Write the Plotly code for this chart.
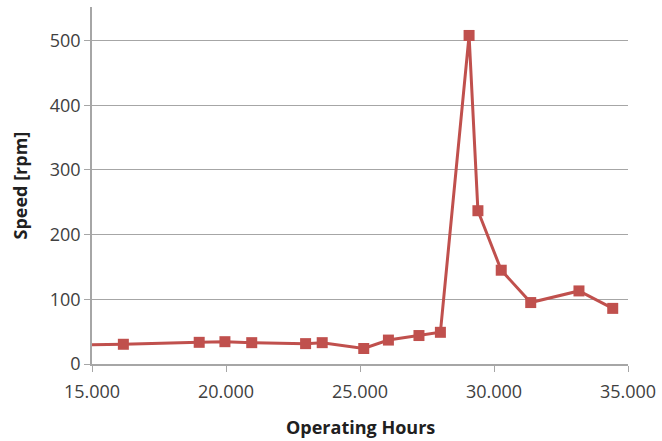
import plotly.graph_objects as go

hours = [13000, 16170, 19000, 19960, 20960, 22970, 23590, 25140, 26060, 27200, 28000,
         29070, 29400, 30270, 31370, 33170, 34430]
speed = [29, 30.5, 33.5, 34.5, 33, 31.5, 33, 24, 37, 44, 49,
         508, 237, 145, 95, 113, 86]
x_ticks = [15000, 20000, 25000, 30000, 35000]
y_ticks = [0, 100, 200, 300, 400, 500]

fig = go.Figure()
fig.add_trace(go.Scatter(
    x=hours, y=speed, mode="lines+markers",
    line=dict(color="#C0504D", width=3),
    marker=dict(symbol="square", size=11, color="#C0504D"),
    showlegend=False,
))

fnt = "Open Sans, Liberation Sans, sans-serif"
fig.update_layout(
    width=662, height=441,
    margin=dict(l=92, r=34, t=7, b=77),
    paper_bgcolor="white", plot_bgcolor="white",
    separators=",.",
    font=dict(family=fnt, size=18, color="#404040"),
    xaxis=dict(
        range=[15000, 35000], tickvals=x_ticks, automargin=False,
        tickformat=",d", showgrid=False, showline=True, linecolor="#A6A6A6", linewidth=1.5,
        ticks="outside", ticklen=6, tickcolor="#A6A6A6", zeroline=False,
        ticklabelstandoff=5,
    ),
    yaxis=dict(
        range=[0, 552], tickvals=y_ticks, automargin=False,
        showgrid=True, gridcolor="#A6A6A6", gridwidth=1.2,
        showline=True, linecolor="#A6A6A6", linewidth=1.5,
        ticks="outside", ticklen=6, tickcolor="#A6A6A6", zeroline=False,
    ),
    annotations=[
        dict(text="<b>Operating Hours</b>", xref="paper", yref="paper", x=0.5, y=0,
             yshift=-63, xanchor="center", yanchor="middle", showarrow=False,
             font=dict(family=fnt, size=18, color="#202020")),
        dict(text="<b>Speed [rpm]</b>", xref="paper", yref="paper", x=0, y=0.5,
             xshift=-73, textangle=-90, xanchor="center", yanchor="middle", showarrow=False,
             font=dict(family=fnt, size=18, color="#202020")),
    ],
)

fig.write_html("out.html", config={"displayModeBar": False},
               post_script="document.body.style.margin='0';document.body.style.padding='0';")
